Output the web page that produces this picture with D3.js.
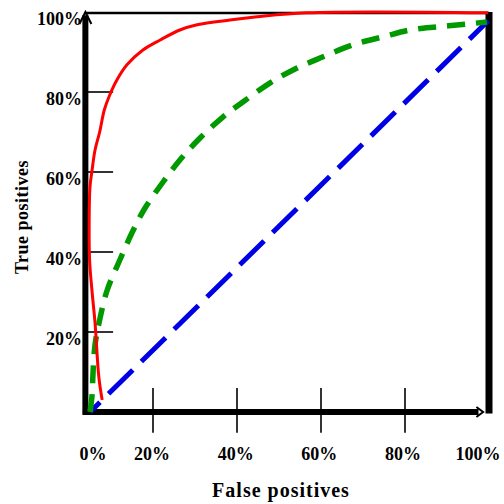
<!DOCTYPE html>
<html><head><meta charset="utf-8">
<script src="https://cdn.jsdelivr.net/npm/d3@7"></script>
<style>html,body{margin:0;padding:0;background:#fff;}svg{display:block;}</style>
</head><body>
<svg id="chart" width="504" height="504"></svg>
<script>
// ---- data (percent) ----
const xTickValues = [20, 40, 60, 80];
const yTickValues = [20, 40, 60, 80, 100];
const xTickLabels = ["0%", "20%", "40%", "60%", "80%", "100%"];
const xLabelValues = [0, 20, 40, 60, 80, 100];
const yTickLabels = ["20%", "40%", "60%", "80%", "100%"];
const xTitle = "False positives";
const yTitle = "True positives";

// red: good classifier
const redFP = [7.9, 7.1, 6.2, 5.5, 4.9, 4.8, 5.0, 5.5, 6.2, 7.3, 8.4, 9.6, 11.4, 13.8, 17.6, 21.7, 26.4, 30.5, 38.3, 44.8, 56.7, 99.8];
const redTP = [3.0, 8.8, 22.3, 30.0, 38.0, 47.0, 56.3, 60.5, 65.5, 70.0, 75.5, 79.0, 83.0, 86.8, 90.5, 93.0, 95.5, 96.8, 98.0, 98.8, 99.8, 99.8];
// green: moderate classifier
const greenFP = [5.0, 5.5, 5.7, 6.2, 7.4, 9.1, 12.1, 15.0, 18.1, 22.4, 26.4, 31.2, 36.7, 41.4, 47.9, 54.3, 60.5, 67.6, 74.8, 81.2, 87.9, 94.8, 99.5];
const greenTP = [0.0, 4.3, 9.3, 16.8, 23.5, 30.5, 38.0, 44.8, 51.0, 57.5, 63.0, 68.5, 73.8, 77.5, 82.3, 86.0, 88.8, 91.8, 93.8, 95.5, 96.3, 97.0, 97.5];
// blue: random classifier
const blueFP = [5.0, 99.8];
const blueTP = [0.0, 97.8];

const svg = d3.select("#chart");
const x = d3.scaleLinear().domain([0, 100]).range([69, 489]);
const y = d3.scaleLinear().domain([0, 100]).range([412, 12]);
const xLab = d3.scaleLinear().domain([0, 20, 80, 100]).range([93, 152, 403, 478]);

const FONT = "'Liberation Serif','Times New Roman',serif";

// tick marks
svg.append("g").selectAll("line").data(yTickValues.slice(0, 4)).join("line")
  .attr("x1", x(4)).attr("x2", x(10.5)).attr("y1", d => y(d)).attr("y2", d => y(d))
  .attr("stroke", "#000").attr("stroke-width", 1.6);
svg.append("g").selectAll("line").data(xTickValues).join("line")
  .attr("x1", d => x(d)).attr("x2", d => x(d)).attr("y1", y(6)).attr("y2", y(-5.2))
  .attr("stroke", "#000").attr("stroke-width", 1.6);

// frame
const frame = svg.append("g").attr("stroke", "#000").attr("fill", "none");
frame.append("line").attr("x1", x(4)).attr("x2", x(100)).attr("y1", y(99.75)).attr("y2", y(99.75)).attr("stroke-width", 2.5);
frame.append("line").attr("x1", x(100)).attr("x2", x(100)).attr("y1", y(100)).attr("y2", y(-0.4)).attr("stroke-width", 7);
frame.append("line").attr("x1", x(3.3)).attr("x2", x(97.5)).attr("y1", y(0)).attr("y2", y(0)).attr("stroke-width", 6);
frame.append("line").attr("x1", x(3.9)).attr("x2", x(3.9)).attr("y1", y(99.2)).attr("y2", y(-0.7)).attr("stroke-width", 6);
// arrow heads
frame.append("path").attr("d", `M${x(3.9)-6},${y(97)} L${x(3.9)},${y(100)} L${x(3.9)+6},${y(97)}`).attr("stroke-width", 2);
frame.append("path").attr("d", `M${x(97)},${y(0)-5} L${x(98.6)},${y(0)} L${x(97)},${y(0)+5}`).attr("stroke-width", 2);

// curves
const line = d3.line().x(d => x(d[0])).y(d => y(d[1]));
const smooth = d3.line().curve(d3.curveCatmullRom.alpha(0.5)).x(d => x(d[0])).y(d => y(d[1]));
const zip = (a, b) => a.map((v, i) => [v, b[i]]);
svg.append("path").datum(zip(blueFP, blueTP)).attr("d", line)
  .attr("fill", "none").attr("stroke", "#0000e6").attr("stroke-width", 5)
  .attr("stroke-dasharray", "34,12").attr("stroke-dashoffset", 20);
svg.append("path").datum(zip(greenFP, greenTP)).attr("d", smooth)
  .attr("fill", "none").attr("stroke", "#009900").attr("stroke-width", 5.5)
  .attr("stroke-dasharray", "18,11");
svg.append("path").datum(zip(redFP, redTP)).attr("d", smooth)
  .attr("fill", "none").attr("stroke", "#ff0000").attr("stroke-width", 3);

// tick labels
svg.append("g").selectAll("text").data(yTickValues).join("text")
  .attr("x", 82).attr("y", d => y(d) + 7).attr("dy", "0.35em")
  .attr("text-anchor", "end").attr("font-family", FONT).attr("font-weight", "bold")
  .attr("font-size", 18).text((d, i) => yTickLabels[i]);
svg.append("g").selectAll("text").data(xLabelValues).join("text")
  .attr("x", d => xLab(d)).attr("y", 454).attr("dy", "0.35em")
  .attr("text-anchor", "middle").attr("font-family", FONT).attr("font-weight", "bold")
  .attr("font-size", 18).text((d, i) => xTickLabels[i]);

// titles
svg.append("text").attr("x", 281).attr("y", 490).attr("dy", "0.35em")
  .attr("text-anchor", "middle").attr("font-family", FONT).attr("font-weight", "bold")
  .attr("font-size", 20).attr("letter-spacing", 1).text(xTitle);
svg.append("text").attr("transform", "translate(22,217) rotate(-90)").attr("dy", "0.35em")
  .attr("text-anchor", "middle").attr("font-family", FONT).attr("font-weight", "bold")
  .attr("font-size", 18).attr("letter-spacing", 0.5).text(yTitle);
</script>
</body></html>
